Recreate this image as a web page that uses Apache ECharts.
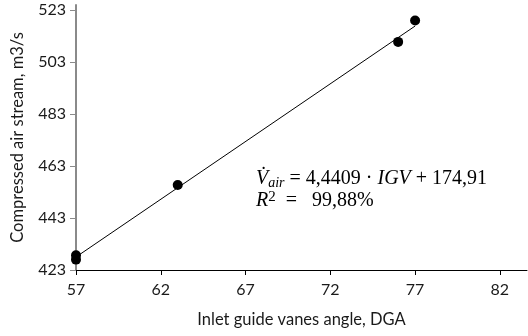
<!DOCTYPE html>
<html>
<head>
<meta charset="utf-8">
<script src="https://cdn.jsdelivr.net/npm/echarts@6/dist/echarts.min.js"></script>
<style>
  html, body { margin: 0; padding: 0; background: #fff; }
  #chart { width: 528px; height: 336px; }
</style>
</head>
<body>
<div id="chart"></div>
<script>
// measured points
var igvAngle = [57, 57, 63, 76, 77];
var airStream = [428.7, 427.0, 455.7, 510.8, 519.0];
// linear trend line ends (from V = 4,4409*IGV + 174,91)
var trendX = [57, 77];
var trendY = [428.0, 516.9];
// axis ticks
var xTicks = [57, 62, 67, 72, 77, 82];
var yTicks = [423, 443, 463, 483, 503, 523];

var chart = echarts.init(document.getElementById('chart'));

var labelFont = 'Lato';

chart.setOption({
    animation: false,
    grid: { left: 76, right: 1, top: 5, bottom: 66 },
    xAxis: {
        type: 'value',
        min: 57,
        max: 83.6,
        name: 'Inlet guide vanes angle, DGA',
        nameLocation: 'middle',
        nameGap: 41,
        nameTextStyle: { color: '#1a1a1a', fontSize: 16.5, fontFamily: labelFont },
        axisLine: { show: true, onZero: false, lineStyle: { color: '#000', width: 1 } },
        axisTick: { show: true, length: 5, lineStyle: { color: '#000' }, customValues: xTicks },
        axisLabel: { color: '#1a1a1a', fontSize: 16, fontFamily: labelFont, margin: 12, customValues: xTicks },
        splitLine: { show: false }
    },
    yAxis: {
        type: 'value',
        min: 423,
        max: 525,
        name: 'Compressed air stream, m3/s',
        nameLocation: 'middle',
        nameGap: 50,
        nameTextStyle: { color: '#1a1a1a', fontSize: 16.5, fontFamily: labelFont },
        axisLine: { show: true, onZero: false, lineStyle: { color: '#8a8a8a', width: 2 } },
        axisTick: { show: true, length: 6, lineStyle: { color: '#8a8a8a' }, customValues: yTicks },
        axisLabel: { color: '#1a1a1a', fontSize: 16, fontFamily: labelFont, margin: 10, customValues: yTicks },
        splitLine: { show: false }
    },
    graphic: [{
        type: 'text',
        left: 256,
        top: 169,
        style: {
            text: '{v|V\u0307}{sub|air}{n| = 4,4409 · }{v|IGV}{n| + 174,91}\n{v|R}{sup|2}{n|  =   99,88%}',
            fill: '#000',
            rich: {
                v: { fontFamily: 'Liberation Serif', fontStyle: 'italic', fontSize: 20, lineHeight: 22 },
                n: { fontFamily: 'Liberation Serif', fontSize: 20, lineHeight: 22 },
                sub: { fontFamily: 'Liberation Serif', fontStyle: 'italic', fontSize: 14, lineHeight: 10, verticalAlign: 'bottom' },
                sup: { fontFamily: 'Liberation Serif', fontSize: 15, lineHeight: 14, verticalAlign: 'top' }
            }
        }
    }],
    series: [{
        type: 'line',
        data: trendX.map(function (x, i) { return [x, trendY[i]]; }),
        showSymbol: false,
        lineStyle: { color: '#000', width: 1 },
        z: 2
    }, {
        type: 'scatter',
        data: igvAngle.map(function (x, i) { return [x, airStream[i]]; }),
        symbolSize: 10,
        itemStyle: { color: '#000', opacity: 1 },
        z: 3
    }]
});
</script>
</body>
</html>
